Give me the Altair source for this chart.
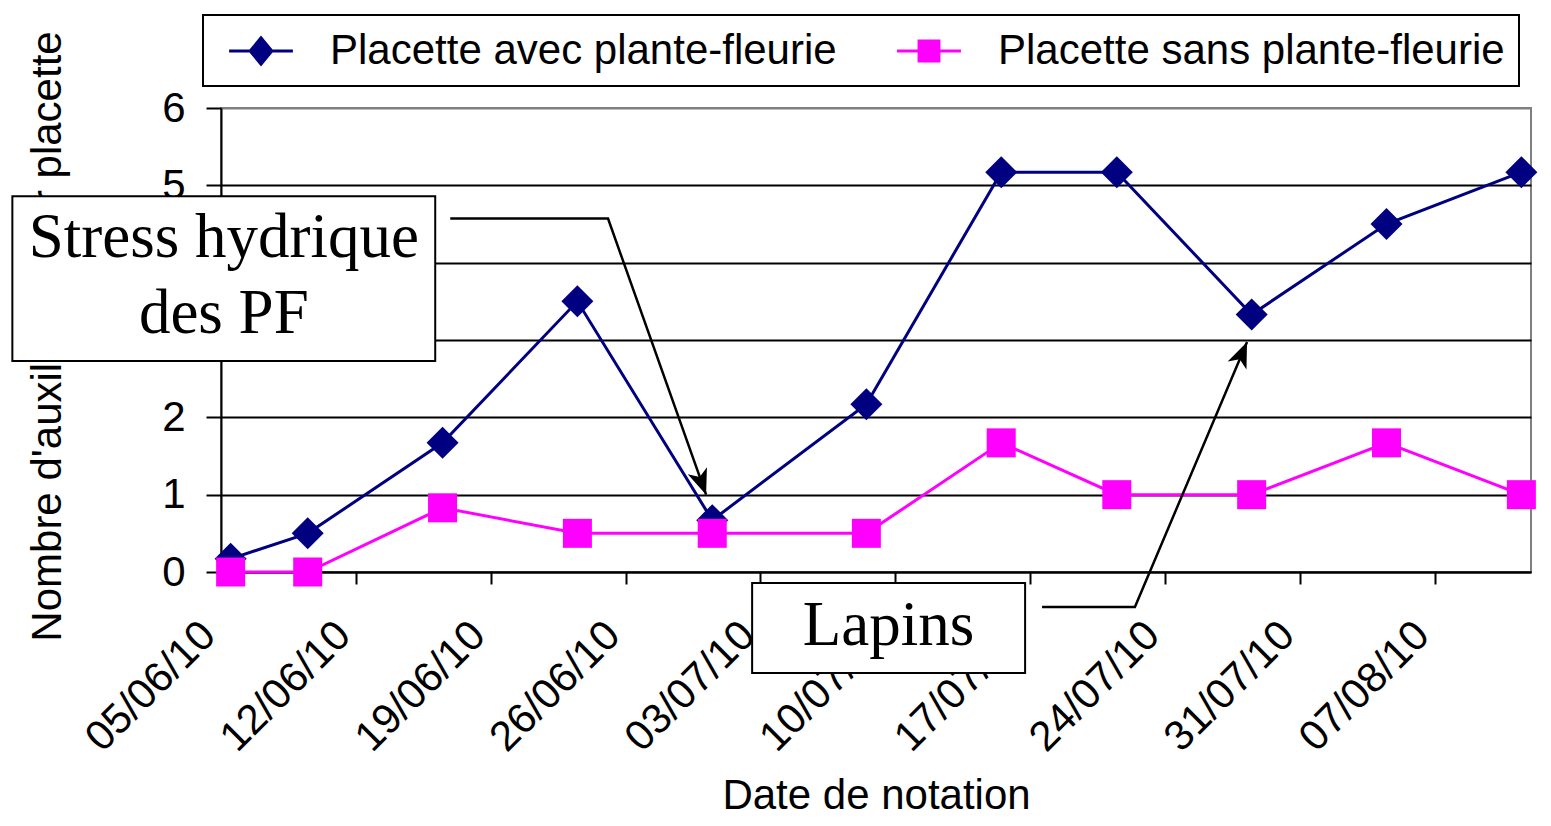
import altair as alt
import pandas as pd

# ---------------- data ----------------
obs_dates = ["2010-06-05", "2010-06-09", "2010-06-16", "2010-06-23", "2010-06-30",
             "2010-07-08", "2010-07-15", "2010-07-21", "2010-07-28", "2010-08-04",
             "2010-08-11"]
avec_pf = [0.17, 0.5, 1.67, 3.5, 0.67, 2.17, 5.17, 5.17, 3.33, 4.5, 5.17]
sans_pf = [0.0, 0.0, 0.83, 0.5, 0.5, 0.5, 1.67, 1.0, 1.0, 1.67, 1.0]
series_names = ["Placette avec plante-fleurie", "Placette sans plante-fleurie"]

x_tick_dates = [(2010, 6, 5), (2010, 6, 12), (2010, 6, 19), (2010, 6, 26), (2010, 7, 3),
                (2010, 7, 10), (2010, 7, 17), (2010, 7, 24), (2010, 7, 31), (2010, 8, 7)]
x_range = [(2010, 6, 5), (2010, 8, 12)]
y_ticks = [0, 1, 2, 3, 4, 5, 6]
x_title = "Date de notation"
y_title = "Nombre d'auxiliaires par placette"

# annotations (x in days after 05/06/10, y in axis units)
box_day0 = [-10.83, 27.57]
box_day1 = [11.12, 41.74]
box_val0 = [2.73, -1.306]
box_val1 = [4.86, -0.142]
note_lines = ["Stress hydrique", "des PF", "Lapins"]
note_day = [0.145, 0.145, 34.65]
note_val = [4.07, 3.09, -0.944]
arrow_id = ["stress", "stress", "stress", "lapins", "lapins", "lapins"]
arrow_day = [11.9, 20.09, 25.18, 42.62, 47.44, 53.26]
arrow_val = [4.57, 4.57, 1.0, -0.453, -0.453, 2.974]
head_day = [25.18, 53.26]
head_val = [1.0, 2.974]
head_angle = [160, 23]

# ---------------- tables ----------------
rows = []
for name, vals in zip(series_names, [avec_pf, sans_pf]):
    for d, v in zip(obs_dates, vals):
        rows.append({"date": d + "T12:00:00", "value": v, "series": name})
df = pd.DataFrame(rows)

base = pd.Timestamp("2010-06-05")
def day_str(days):
    return [(base + pd.to_timedelta(x, unit="D")).strftime("%Y-%m-%dT%H:%M:%S") for x in days]

boxes = pd.DataFrame({"date": day_str(box_day0), "date2": day_str(box_day1),
                      "value": box_val0, "value2": box_val1})
notes = pd.DataFrame({"date": day_str(note_day), "value": note_val, "txt": note_lines})
arrows = pd.DataFrame({"date": day_str(arrow_day), "value": arrow_val, "id": arrow_id,
                       "ord": list(range(len(arrow_day)))})
heads = pd.DataFrame({"date": day_str(head_day), "value": head_val, "angle": head_angle})

NAVY = "#000080"
MAGENTA = "#FF00FF"
SANS = "Liberation Sans"
SERIF = "Liberation Serif"

dt = lambda t: alt.DateTime(year=t[0], month=t[1], date=t[2])

x_axis = alt.Axis(
    values=[dt(t) for t in x_tick_dates], format="%d/%m/%y", labelAngle=-45,
    labelOverlap=False, labelBound=False, labelFlush=False,
    labelFont=SANS, labelFontSize=42, labelColor="black", labelPadding=30, labelOffset=-27,
    tickSize=12, tickWidth=2, tickColor="black", domainColor="black", domainWidth=2,
    grid=False, title=x_title, titleFont=SANS, titleFontSize=42, titleFontWeight="normal",
    titleColor="black", titleY=236, titleBaseline="alphabetic",
)
y_axis = alt.Axis(
    values=y_ticks, labelFont=SANS, labelFontSize=42, labelColor="black", labelPadding=21,
    labelOverlap=False,
    tickSize=15, tickWidth=2, tickColor="black", domainColor="black", domainWidth=2,
    grid=True, gridWidth=2, gridOpacity=1,
    gridColor={"condition": {"test": "datum.value == 6", "value": "#808080"}, "value": "black"},
    title=y_title, titleFont=SANS, titleFontSize=42, titleFontWeight="normal",
    titleColor="black", titleX=-161, titleY=228, titleBaseline="alphabetic", titleAngle=270,
)

X = alt.X("date:T", scale=alt.Scale(domain=[dt(t) for t in x_range]), axis=x_axis)
Y = alt.Y("value:Q", scale=alt.Scale(domain=[0, 6], nice=False, zero=False), axis=y_axis)

layers = []
styles = [(NAVY, "diamond", 1024), (MAGENTA, "square", 841)]
for name, (col, shp, sz) in zip(series_names, styles):
    sub = df[df["series"] == name]
    layers.append(alt.Chart(sub).mark_line(color=col, strokeWidth=3).encode(x=X, y=Y))
    layers.append(alt.Chart(sub).mark_point(filled=True, shape=shp, size=sz, color=col,
                                            opacity=1).encode(x=X, y=Y))

# legend layer (no visible marks, only drives the legend)
legend_paths = [
    "M-1.45,-0.068L1.45,-0.068L1.45,0.068L-1.45,0.068Z M-0.58,0L0,-0.7L0.58,0L0,0.7Z",
    "M-1.45,-0.068L1.45,-0.068L1.45,0.068L-1.45,0.068Z M-0.52,-0.52L0.52,-0.52L0.52,0.52L-0.52,0.52Z",
]
legend_layer = alt.Chart(df).mark_point(filled=True, opacity=1).encode(
    x=X, y=Y,
    color=alt.Color("series:N", scale=alt.Scale(domain=series_names, range=[NAVY, MAGENTA]),
                    title=None),
    shape=alt.Shape("series:N", scale=alt.Scale(domain=series_names, range=legend_paths),
                    title=None),
).transform_filter("false")
layers.append(legend_layer)

# annotations
layers.append(alt.Chart(arrows).mark_line(color="black", strokeWidth=2.5).encode(
    x=X, y=Y, detail="id:N", order="ord:Q"))
layers.append(alt.Chart(heads).mark_point(
    shape="M0,0L0.6,1.5L0,1.1L-0.6,1.5Z", filled=True, size=1156, color="black", opacity=1
).encode(x=X, y=Y, angle=alt.Angle("angle:Q", scale=None)))
layers.append(alt.Chart(boxes).mark_rect(fill="white", stroke="black", strokeWidth=2).encode(
    x=X, x2="date2:T", y=Y, y2="value2:Q"))
layers.append(alt.Chart(notes).mark_text(font=SERIF, fontSize=63, color="black",
                                         align="center", baseline="alphabetic").encode(
    x=X, y=Y, text="txt:N"))

chart = alt.layer(*layers).properties(
    width=1310, height=464,
    padding={"left": 213, "top": 100, "right": 12, "bottom": 246},
    autosize=alt.AutoSizeParams(type="none"),
    background="white",
).configure_view(
    stroke="#808080", strokeWidth=2
).configure_legend(
    orient="none", legendX=-18, legendY=-93, direction="horizontal",
    padding=14, strokeColor="black", strokeWidth=2, fillColor="white",
    labelFont=SANS, labelFontSize=42, labelColor="black", labelLimit=2000,
    symbolSize=1936, symbolOffset=22, labelOffset=47, columnPadding=48,
    symbolStrokeWidth=0,
)

chart.save("out.html", embed_options={"renderer": "svg", "actions": False})
